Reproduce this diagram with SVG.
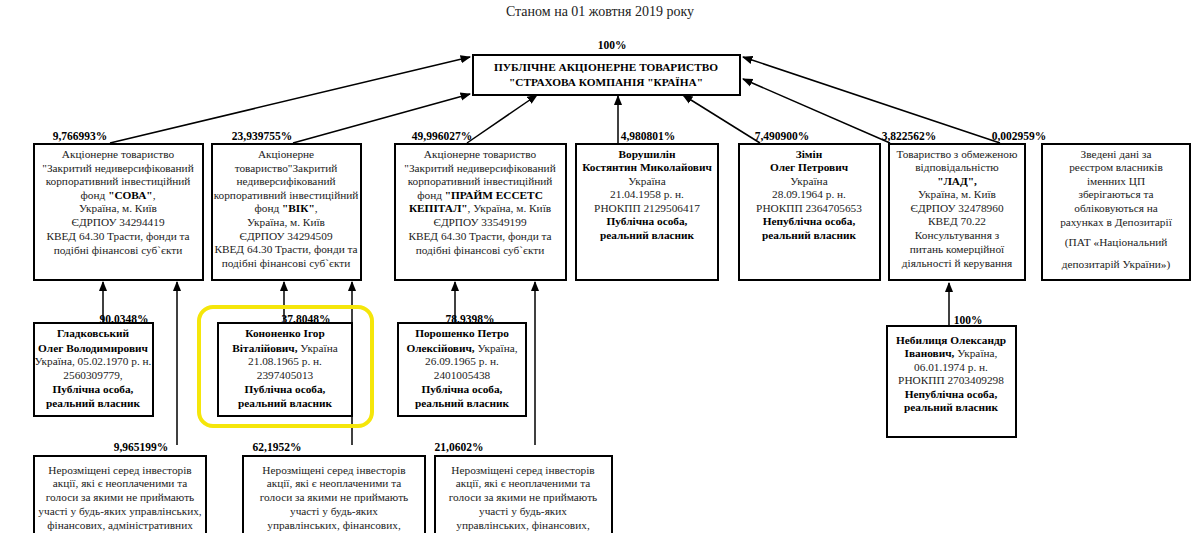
<svg xmlns="http://www.w3.org/2000/svg" width="1200" height="533" viewBox="0 0 1200 533">
<style>
text{font-family:"Liberation Serif","Times New Roman",serif;font-size:11.3px;fill:#222;text-anchor:middle}
.b{font-weight:bold;fill:#000}
.p{font-weight:bold;font-size:11.5px;fill:#000}
.box{fill:#fff;stroke:#000;stroke-width:2}
.ln{stroke:#000;stroke-width:1.5;fill:none;marker-end:url(#ah)}
</style>
<defs>
<marker id="ah" viewBox="0 0 10 10" refX="9" refY="5" markerWidth="7" markerHeight="7" orient="auto"><path d="M0,1 L10,5 L0,9 Z" fill="#000"/></marker>
</defs>
<rect width="1200" height="533" fill="#fff"/>
<text x="600" y="16" style="font-size:14px">Станом на 01 жовтня 2019 року</text>

<g id="connectors">
<line class="ln" x1="110" y1="143" x2="470" y2="57"/>
<line class="ln" x1="293" y1="143" x2="470" y2="94"/>
<line class="ln" x1="467" y1="143" x2="537" y2="95"/>
<line class="ln" x1="618" y1="144" x2="618" y2="96"/>
<line class="ln" x1="760" y1="143" x2="683" y2="95"/>
<line class="ln" x1="890" y1="143" x2="743" y2="79"/>
<line class="ln" x1="1000" y1="143" x2="743" y2="57"/>
<line class="ln" x1="103" y1="323" x2="103" y2="282"/>
<line class="ln" x1="177" y1="445" x2="177" y2="282"/>
<line class="ln" x1="284" y1="323" x2="284" y2="282"/>
<line class="ln" x1="352" y1="445" x2="352" y2="282"/>
<line class="ln" x1="455" y1="323" x2="455" y2="282"/>
<line class="ln" x1="535" y1="445" x2="535" y2="282"/>
<line class="ln" x1="949" y1="326" x2="949" y2="283"/>
</g>

<g id="top">
<rect class="box" x="473" y="55" width="267" height="40"/>
<text x="606" y="71" class="b">ПУБЛІЧНЕ АКЦІОНЕРНЕ ТОВАРИСТВО</text>
<text x="606" y="86" class="b">"СТРАХОВА КОМПАНІЯ "КРАЇНА"</text>
<text x="612" y="49" class="p">100%</text>
</g>

<g id="sova">
<text x="80" y="140" class="p">9,766993%</text>
<rect class="box" x="34" y="144" width="169" height="136"/>
<text x="118" y="158">Акціонерне товариство</text>
<text x="118" y="172">"Закритий недиверсифікований</text>
<text x="118" y="185">корпоративний інвестиційний</text>
<text x="118" y="199">фонд <tspan class="b">"СОВА"</tspan>,</text>
<text x="118" y="212">Україна, м. Київ</text>
<text x="118" y="226">ЄДРПОУ 34294419</text>
<text x="118" y="240">КВЕД 64.30 Трасти, фонди та</text>
<text x="118" y="254">подібні фінансові суб`єкти</text>
</g>

<g id="vik">
<text x="262" y="140" class="p">23,939755%</text>
<rect class="box" x="212" y="144" width="149" height="136"/>
<text x="286" y="158">Акціонерне</text>
<text x="286" y="172">товариство"Закритий</text>
<text x="286" y="185">недиверсифікований</text>
<text x="286" y="199">корпоративний інвестиційний</text>
<text x="286" y="212">фонд <tspan class="b">"ВІК"</tspan>,</text>
<text x="286" y="226">Україна, м. Київ</text>
<text x="286" y="240">ЄДРПОУ 34294509</text>
<text x="286" y="253">КВЕД 64.30 Трасти, фонди та</text>
<text x="286" y="267">подібні фінансові суб`єкти</text>
</g>

<g id="prime">
<text x="442" y="140" class="p">49,996027%</text>
<rect class="box" x="395" y="144" width="171" height="136"/>
<text x="480" y="158">Акціонерне товариство</text>
<text x="480" y="172">"Закритий недиверсифікований</text>
<text x="480" y="185">корпоративний інвестиційний</text>
<text x="480" y="199">фонд <tspan class="b">"ПРАЙМ ЕССЕТС</tspan></text>
<text x="480" y="212"><tspan class="b">КЕПІТАЛ"</tspan>, Україна, м. Київ</text>
<text x="480" y="226">ЄДРПОУ 33549199</text>
<text x="480" y="240">КВЕД 64.30 Трасти, фонди та</text>
<text x="480" y="254">подібні фінансові суб`єкти</text>
</g>

<g id="vorushylin">
<text x="648" y="140" class="p">4,980801%</text>
<rect class="box" x="576" y="144" width="142" height="136"/>
<text x="647" y="158" class="b">Ворушилін</text>
<text x="647" y="171" class="b">Костянтин Миколайович</text>
<text x="647" y="185">Україна</text>
<text x="647" y="198">21.04.1958 р. н.</text>
<text x="647" y="212">РНОКПП 2129506417</text>
<text x="647" y="225" class="b">Публічна особа,</text>
<text x="647" y="239" class="b">реальний власник</text>
</g>

<g id="zimin">
<text x="782" y="140" class="p">7,490900%</text>
<rect class="box" x="739" y="144" width="141" height="136"/>
<text x="809" y="158" class="b">Зімін</text>
<text x="809" y="171" class="b">Олег Петрович</text>
<text x="809" y="185">Україна</text>
<text x="809" y="198">28.09.1964 р. н.</text>
<text x="809" y="212">РНОКПП 2364705653</text>
<text x="809" y="225" class="b">Непублічна особа,</text>
<text x="809" y="239" class="b">реальний власник</text>
</g>

<g id="lad">
<text x="909" y="140" class="p">3,822562%</text>
<rect class="box" x="889" y="144" width="136" height="136"/>
<text x="957" y="158">Товариство з обмеженою</text>
<text x="957" y="171">відповідальністю</text>
<text x="957" y="185" class="b">"ЛАД",</text>
<text x="957" y="198">Україна, м. Київ</text>
<text x="957" y="212">ЄДРПОУ 32478960</text>
<text x="957" y="225">КВЕД 70.22</text>
<text x="957" y="239">Консультування з</text>
<text x="957" y="253">питань комерційної</text>
<text x="957" y="267">діяльності й керування</text>
</g>

<g id="registry">
<text x="1019" y="140" class="p">0,002959%</text>
<rect class="box" x="1042" y="144" width="148" height="136"/>
<text x="1116" y="158">Зведені дані за</text>
<text x="1116" y="171">реєстром власників</text>
<text x="1116" y="185">іменних ЦП</text>
<text x="1116" y="198">зберігаються та</text>
<text x="1116" y="212">обліковуються на</text>
<text x="1116" y="226">рахунках в Депозитарії</text>
<text x="1116" y="246">(ПАТ  «Національний</text>
<text x="1116" y="268">депозитарій  України»)</text>
</g>

<g id="hladkovskyi">
<text x="124" y="323" class="p">90,0348%</text>
<rect class="box" x="34" y="323" width="119" height="93"/>
<text x="93" y="337" class="b">Гладковський</text>
<text x="93" y="352" class="b">Олег Володимирович</text>
<text x="93" y="365">Україна, 05.02.1970 р. н.</text>
<text x="93" y="379">2560309779,</text>
<text x="93" y="393" class="b">Публічна особа,</text>
<text x="93" y="407" class="b">реальний власник</text>
</g>

<g id="kononenko">
<rect x="199" y="307" width="173" height="119" rx="14" fill="none" stroke="#f5e60a" stroke-width="4"/>
<text x="306" y="323" class="p">37,8048%</text>
<rect class="box" x="218" y="323" width="134" height="93"/>
<text x="285" y="337" class="b">Кононенко Ігор</text>
<text x="285" y="352"><tspan class="b">Віталійович,</tspan> Україна</text>
<text x="285" y="365">21.08.1965 р. н.</text>
<text x="285" y="379">2397405013</text>
<text x="285" y="393" class="b">Публічна особа,</text>
<text x="285" y="407" class="b">реальний власник</text>
</g>

<g id="poroshenko">
<text x="470" y="323" class="p">78,9398%</text>
<rect class="box" x="398" y="323" width="128" height="93"/>
<text x="462" y="337" class="b">Порошенко Петро</text>
<text x="462" y="352"><tspan class="b">Олексійович,</tspan> Україна,</text>
<text x="462" y="365">26.09.1965 р. н.</text>
<text x="462" y="379">2401005438</text>
<text x="462" y="393" class="b">Публічна особа,</text>
<text x="462" y="407" class="b">реальний власник</text>
</g>

<g id="nebylytsia">
<text x="968" y="324" class="p">100%</text>
<rect class="box" x="887" y="326" width="129" height="111"/>
<text x="951" y="344" class="b">Небилиця Олександр</text>
<text x="951" y="357"><tspan class="b">Іванович,</tspan> Україна,</text>
<text x="951" y="371">06.01.1974 р. н.</text>
<text x="951" y="384">РНОКПП 2703409298</text>
<text x="951" y="398" class="b">Непублічна особа,</text>
<text x="951" y="411" class="b">реальний власник</text>
</g>

<g id="unplaced1">
<text x="141" y="451" class="p">9,965199%</text>
<rect class="box" x="34" y="456" width="172" height="90"/>
<text x="120" y="474">Нерозміщені серед інвесторів</text>
<text x="120" y="487">акції, які є неоплаченими та</text>
<text x="120" y="501">голоси за якими не приймають</text>
<text x="120" y="515">участі у будь-яких управлінських,</text>
<text x="120" y="529">фінансових, адміністративних</text>
</g>

<g id="unplaced2">
<text x="277" y="451" class="p">62,1952%</text>
<rect class="box" x="243" y="456" width="182" height="90"/>
<text x="334" y="474">Нерозміщені серед інвесторів</text>
<text x="334" y="487">акції, які є неоплаченими та</text>
<text x="334" y="501">голоси за якими не приймають</text>
<text x="334" y="515">участі у будь-яких</text>
<text x="334" y="529">управлінських,  фінансових,</text>
</g>

<g id="unplaced3">
<text x="459" y="451" class="p">21,0602%</text>
<rect class="box" x="435" y="456" width="177" height="90"/>
<text x="523" y="474">Нерозміщені серед інвесторів</text>
<text x="523" y="487">акції, які є неоплаченими та</text>
<text x="523" y="501">голоси за якими не приймають</text>
<text x="523" y="515">участі у будь-яких</text>
<text x="523" y="529">управлінських,  фінансових,</text>
</g>
</svg>
